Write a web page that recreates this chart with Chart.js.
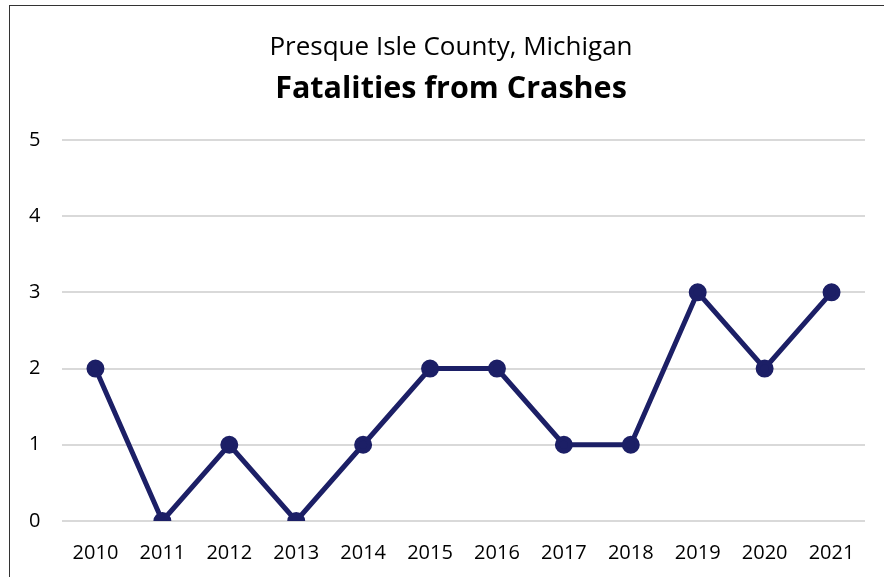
<!DOCTYPE html>
<html>
<head>
<meta charset="utf-8">
<script src="https://cdn.jsdelivr.net/npm/chart.js@4"></script>
<style>
    body { margin: 0; background: #fff; }
    #frame {
        position: absolute;
        left: 9px;
        top: 5px;
        width: 880px;
        height: 580px;
        border: 1px solid #333;
        box-sizing: border-box;
    }
    #box {
        position: absolute;
        left: 6px;
        top: 6px;
        width: 878px;
        height: 571px;
    }
</style>
</head>
<body>
<div id="frame"></div>
<div id="box"><canvas id="myChart"></canvas></div>
<script>
var anos = ['2010', '2011', '2012', '2013', '2014', '2015', '2016', '2017', '2018', '2019', '2020', '2021'];
var fatalidades = [2, 0, 1, 0, 1, 2, 2, 1, 1, 3, 2, 3];
var ticksY = [0, 1, 2, 3, 4, 5];

var corLinha = 'rgb(28, 31, 102)';

function plotarGrafico() {
    const data = {
        labels: anos,
        datasets: [{
            label: 'Fatalities',
            data: fatalidades,
            borderColor: corLinha,
            backgroundColor: corLinha,
            borderWidth: 5,
            pointRadius: 6.5,
            pointHoverRadius: 6.5,
            tension: 0
        }]
    };

    const config = {
        type: 'line',
        data: data,
        options: {
            responsive: true,
            maintainAspectRatio: false,
            animation: false,
            layout: {
                padding: { left: 31, right: 19, top: 0, bottom: 0 }
            },
            plugins: {
                legend: { display: false },
                tooltip: { enabled: false },
                title: {
                    display: true,
                    text: 'Presque Isle County, Michigan',
                    color: '#000',
                    font: { family: 'Open Sans', size: 26, weight: 'normal' },
                    padding: { top: 26, bottom: 8 }
                },
                subtitle: {
                    display: true,
                    text: 'Fatalities from Crashes',
                    color: '#000',
                    font: { family: 'Open Sans', size: 30.5, weight: 'bold' },
                    padding: { top: 0, bottom: 32 }
                }
            },
            scales: {
                x: {
                    offset: true,
                    grid: { display: false },
                    border: { display: false },
                    ticks: {
                        color: '#000',
                        font: { family: 'Open Sans', size: 20 },
                        padding: 12,
                        maxRotation: 0
                    }
                },
                y: {
                    min: 0,
                    max: 5,
                    afterBuildTicks: function (eixo) {
                        eixo.ticks = ticksY.map(v => ({ value: v }));
                    },
                    // largura fixa para o titulo ficar centralizado como no original
                    afterFit: function (eixo) {
                        eixo.width = 25;
                    },
                    grid: { color: '#d9d9d9', lineWidth: 2, drawTicks: false },
                    border: { display: false },
                    ticks: {
                        color: '#000',
                        font: { family: 'Open Sans', size: 20 },
                        mirror: true,
                        padding: -33
                    }
                }
            }
        }
    };

    const myChart = new Chart(document.getElementById('myChart'), config);
}

plotarGrafico();
</script>
</body>
</html>
